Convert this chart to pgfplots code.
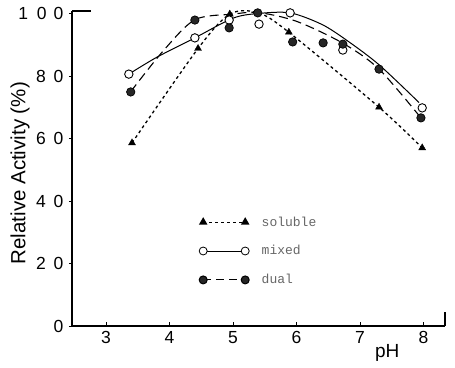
\documentclass[border=0pt]{standalone}
\usepackage{fontspec}
\setmainfont{Liberation Sans}
\newfontfamily\monofont{Liberation Mono}
\usepackage{pgfplots}
\pgfplotsset{compat=1.18}
\begin{document}
\begin{tikzpicture}
\begin{axis}[
  at={(0,0)}, anchor=south west,
  scale only axis, width=373pt, height=315pt,
  xmin=2.465, xmax=8.339, ymin=0, ymax=100.8,
  axis x line=bottom, axis y line=left,
  axis line style={-, line width=1.3pt},
  clip=false,
  /pgf/number format/assume math mode=true,
  xtick={3,4,5,6,7,8},
  ytick={0,20,40,60,80,100},
  yticklabels={{0},{2\kern8pt 0},{4\kern8pt 0},{6\kern8pt 0},{8\kern8pt 0},{1\kern9pt 0\kern7pt 0}},
  tick align=inside,
  major tick length=4pt,
  tick style={black, line width=0.8pt},
  y tick style={xshift=-3pt},
  ticklabel style={font=\fontsize{17.5}{19}\selectfont},
  yticklabel style={xshift=-5pt},
  xticklabel style={yshift=-2pt},
  xlabel={pH},
  xlabel style={at={(axis description cs:0.845,-0.084)}, anchor=center, font=\fontsize{19}{21}\selectfont},
  ylabel={Relative Activity (\%)},
  ylabel style={at={(axis description cs:-0.139,0.485)}, anchor=center, font=\fontsize{20.5}{22}\selectfont},
  legend style={at={(axis cs:4.465,24)}, anchor=west, draw=none, fill=none, inner sep=0pt,
     row sep=14pt, font=\monofont\fontsize{13}{15}\selectfont, text=black!60,
     nodes={inner sep=2pt}},
  legend cell align=left,
  legend image code/.code={\draw[#1] plot coordinates {(0pt,0pt) (42pt,0pt)}; \path (56pt,0pt);},
]
% curves
\addplot[black, line width=1.3pt, dash pattern=on 3pt off 3pt, smooth, forget plot]
  coordinates {(3.41,58.6) (4.45,88.8) (4.95,99.8) (5.4,100.2) (5.88,94) (7.3,70) (7.98,57)};
\addplot[black, line width=1pt, smooth, forget plot]
  coordinates {(3.36,80.6) (3.8,86) (4.4,92.2) (5.0,98.5) (5.4,100) (5.9,100.2) (6.4,96.5) (6.8,91.3) (7.3,83.6) (7.93,71.5)};
\addplot[black, line width=1.1pt, dash pattern=on 9pt off 5pt, smooth, forget plot]
  coordinates {(3.39,75) (3.9,88) (4.4,98) (5.0,99.8) (5.4,100.3) (6.0,97.5) (6.73,90.5) (7.3,82.2) (7.96,66.6)};
% marks
\addplot[only marks, mark=triangle*, mark size=4pt, black, forget plot]
  coordinates {(3.41,58.6) (4.45,88.8) (4.95,99.8) (5.88,94) (7.3,70) (7.98,57)};
\addplot[only marks, mark=*, mark size=4.2pt, mark options={fill=white, draw=black, line width=0.9pt}, forget plot]
  coordinates {(3.36,80.6) (4.40,92.2) (4.94,97.9) (5.41,96.6) (5.90,100.2) (6.73,88.3) (7.98,69.8)};
\addplot[only marks, mark=*, mark size=4.2pt, mark options={fill=black!85, draw=black, line width=0.7pt}, forget plot]
  coordinates {(3.39,74.9) (4.40,97.9) (4.94,95.4) (5.39,100.2) (5.94,90.9) (6.42,90.6) (6.73,90.2) (7.30,82.2) (7.96,66.6)};
% legend
\addlegendimage{black, line width=1.1pt, dash pattern=on 3pt off 3pt, mark=triangle*, mark size=3.8pt, mark options={solid}}
\addlegendentry{soluble}
\addlegendimage{black, line width=0.9pt, mark=*, mark size=4pt, mark options={fill=white, line width=0.8pt}}
\addlegendentry{mixed}
\addlegendimage{black, line width=1pt, dash pattern=on 8pt off 5pt, mark=*, mark size=4pt, mark options={solid, fill=black!85}}
\addlegendentry{dual}
% frame stubs
\draw[line width=1.3pt] (rel axis cs:0,1) -- (rel axis cs:0.051,1);
\draw[line width=1.3pt] (rel axis cs:1,0) -- (rel axis cs:1,0.045);
\end{axis}
\pgfresetboundingbox
\path (-72pt,-41pt) rectangle (383pt,326pt);
\end{tikzpicture}
\end{document}
